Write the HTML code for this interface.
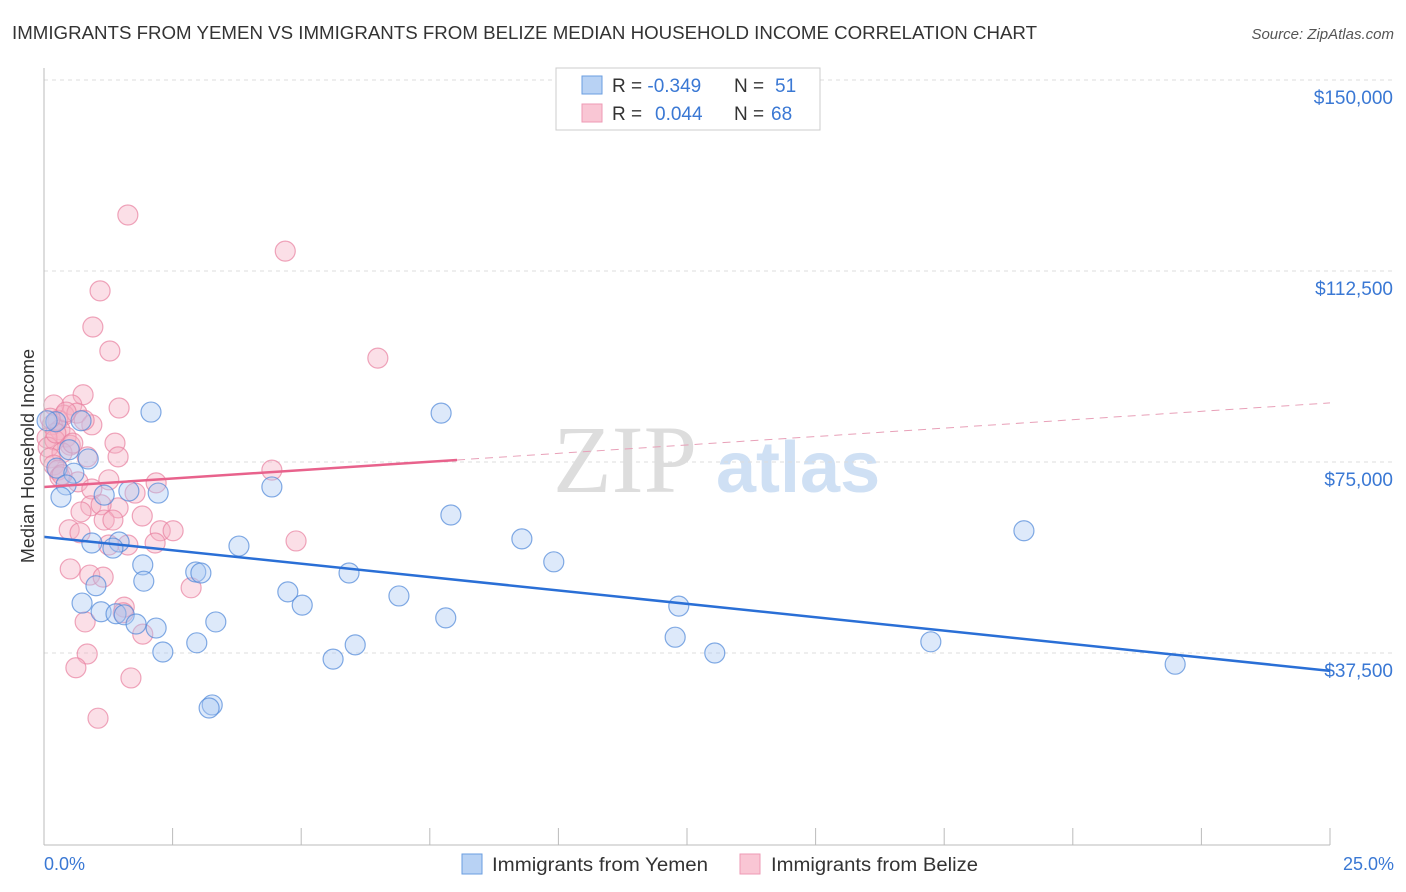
<!DOCTYPE html>
<html><head><meta charset="utf-8"><style>
body{margin:0;background:#fff;font-family:"Liberation Sans",sans-serif;}
svg{display:block}
</style></head><body>
<svg id="c" width="1406" height="892">
<text x="12" y="39" font-size="18" fill="#333" textLength="1025" lengthAdjust="spacingAndGlyphs">IMMIGRANTS FROM YEMEN VS IMMIGRANTS FROM BELIZE MEDIAN HOUSEHOLD INCOME CORRELATION CHART</text>
<text x="1394" y="39" font-size="15" fill="#555" font-style="italic" text-anchor="end">Source: ZipAtlas.com</text>
<text x="553" y="492" font-size="96" fill="#ddd" font-family="Liberation Serif,serif">ZIP</text>
<text x="716" y="492" font-size="72" fill="#cfe0f4" font-weight="bold">atlas</text>
<text transform="translate(34,456) rotate(-90)" font-size="18" fill="#333" text-anchor="middle">Median Household Income</text>
<g id="grid"></g><g id="marks"></g>
<line x1="44" y1="68" x2="44" y2="845" stroke="#bbb"/>
<line x1="44" y1="845" x2="1330" y2="845" stroke="#bbb"/>
<text x="44" y="870" font-size="18" fill="#3a78d4">0.0%</text>
<text x="1394" y="870" font-size="18" fill="#3a78d4" text-anchor="end">25.0%</text>
<g>
<rect x="556" y="68" width="264" height="62" fill="#fff" stroke="#ccc"/>
<rect x="582" y="76" width="20" height="18" fill="#b8d2f4" stroke="#6a9ee0"/>
<rect x="582" y="104" width="20" height="18" fill="#f9c6d4" stroke="#ee9ab4"/>
<text x="612" y="92" font-size="19" fill="#333">R = <tspan fill="#3a78d4">-0.349</tspan><tspan x="734">N = </tspan><tspan fill="#3a78d4" x="775">51</tspan></text>
<text x="612" y="120" font-size="19" fill="#333">R = <tspan fill="#3a78d4" x="655">0.044</tspan><tspan x="734">N = </tspan><tspan fill="#3a78d4" x="771">68</tspan></text>
</g>
<g>
<rect x="462" y="854" width="20" height="20" fill="#b8d2f4" stroke="#6a9ee0"/>
<text x="492" y="871" font-size="19" fill="#333" textLength="216" lengthAdjust="spacingAndGlyphs">Immigrants from Yemen</text>
<rect x="740" y="854" width="20" height="20" fill="#f9c6d4" stroke="#ee9ab4"/>
<text x="771" y="871" font-size="19" fill="#333" textLength="207" lengthAdjust="spacingAndGlyphs">Immigrants from Belize</text>
</g>
</svg>
<script>
const yTicks=[37500,75000,112500,150000];
const yTickLabels=["$37,500","$75,000","$112,500","$150,000"];
const xTicks=[0,2.5,5,7.5,10,12.5,15,17.5,20,22.5,25];
const yemenX=[2.08,7.72,0.23,0.72,0.49,0.86,0.25,0.58,0.43,0.33,1.17,2.22,1.65,4.43,7.91,19.05,0.93,1.46,1.34,3.79,9.29,9.91,1.92,5.93,2.95,3.05,1.94,4.74,0.74,5.02,1.01,6.90,12.34,1.11,1.40,1.56,1.79,2.18,3.34,7.81,12.27,2.97,6.05,2.31,13.04,5.62,17.24,21.99,3.27,3.21,0.06];
const yemenY=[84.8,84.6,82.9,83.1,77.4,75.6,73.8,72.8,70.5,68.1,68.5,68.9,69.3,70.1,64.6,61.5,59.1,59.3,58.1,58.5,59.9,55.4,54.8,53.2,53.4,53.2,51.6,49.5,47.3,46.9,50.7,48.7,46.7,45.6,45.2,45.0,43.2,42.4,43.6,44.4,40.6,39.5,39.1,37.7,37.5,36.3,39.7,35.3,27.3,26.7,83.1];
const belizeX=[1.63,4.69,1.09,0.95,1.28,6.49,0.76,0.54,1.46,0.39,0.64,0.93,0.27,0.16,0.31,0.43,0.06,0.21,0.51,1.38,0.08,0.35,0.12,0.84,1.44,0.19,0.27,4.43,0.66,1.26,0.93,1.77,2.18,0.31,0.91,0.72,1.44,1.91,1.11,1.17,1.34,0.49,0.70,2.26,2.51,4.90,1.26,2.16,1.63,0.51,0.89,1.15,2.86,1.56,1.54,0.80,1.92,0.84,0.62,1.69,1.05,0.35,0.19,0.43,0.23,0.78,0.56,0.12];
const belizeY=[123.5,116.4,108.6,101.5,96.8,95.4,88.2,86.2,85.6,84.2,84.6,82.3,83.2,82.3,81.3,79.9,79.7,79.3,78.3,78.7,77.9,76.8,75.8,76.0,76.0,74.4,73.4,73.4,71.1,71.5,69.7,68.9,70.9,72.1,66.4,65.2,66.0,64.4,66.6,63.6,63.6,61.7,61.1,61.5,61.5,59.5,58.7,59.1,58.7,54.0,52.8,52.4,50.3,46.5,45.4,43.6,41.2,37.3,34.6,32.6,24.7,72.5,86.2,84.8,80.7,83.2,78.7,83.6];
const yemenTrend=[60.3,34.0];
const belizeTrend=[70.1,86.6];
const belizeSolidEnd=8.03;
const NS="http://www.w3.org/2000/svg";
const sx=v=>44+v/25*1286;
const sy=v=>844-v/37.5*191;
const grid=document.getElementById('grid'),marks=document.getElementById('marks');
function mk(tag,at,parent){const e=document.createElementNS(NS,tag);for(const k in at)e.setAttribute(k,at[k]);parent.appendChild(e);return e;}
yTicks.forEach((t,i)=>{const y=sy(t/1000);
 const l=mk('line',{x1:44,x2:1394,y1:y,y2:y,stroke:'#ddd','stroke-dasharray':'4,4'},grid);
 
 
 const tx=mk('text',{x:1393,y:y+24,'font-size':19,fill:'#3a78d4','text-anchor':'end'},grid);
 tx.textContent=yTickLabels[i];
 
 
});
xTicks.forEach(t=>{const x=sx(t);
 const l=mk('line',{x1:x,x2:x,y1:828,y2:845,stroke:'#bbb'},grid);
 
 
});
function pts(X,Y,fill,stroke,name){X.forEach((x,i)=>{
 const c=mk('circle',{cx:sx(x),cy:sy(Y[i]),r:10,fill:fill,'fill-opacity':0.4,stroke:stroke,'stroke-opacity':0.7,'stroke-width':1.2},marks);
 
 
});}
pts(belizeX,belizeY,'#f4aec4','#e8809f','belize-point');
pts(yemenX,yemenY,'#a9c9f2','#4f88d8','yemen-point');
let l=mk('line',{x1:sx(0),y1:sy(yemenTrend[0]),x2:sx(25),y2:sy(yemenTrend[1]),stroke:'#2a6fd6','stroke-width':2.5},marks);


const bm=belizeTrend[0]+(belizeTrend[1]-belizeTrend[0])*belizeSolidEnd/25;
l=mk('line',{x1:sx(0),y1:sy(belizeTrend[0]),x2:sx(belizeSolidEnd),y2:sy(bm),stroke:'#e8628c','stroke-width':2.5},marks);


l=mk('line',{x1:sx(belizeSolidEnd),y1:sy(bm),x2:sx(25),y2:sy(belizeTrend[1]),stroke:'#e8a0b8','stroke-width':1,'stroke-dasharray':'8,6'},marks);


</script>
</body></html>
